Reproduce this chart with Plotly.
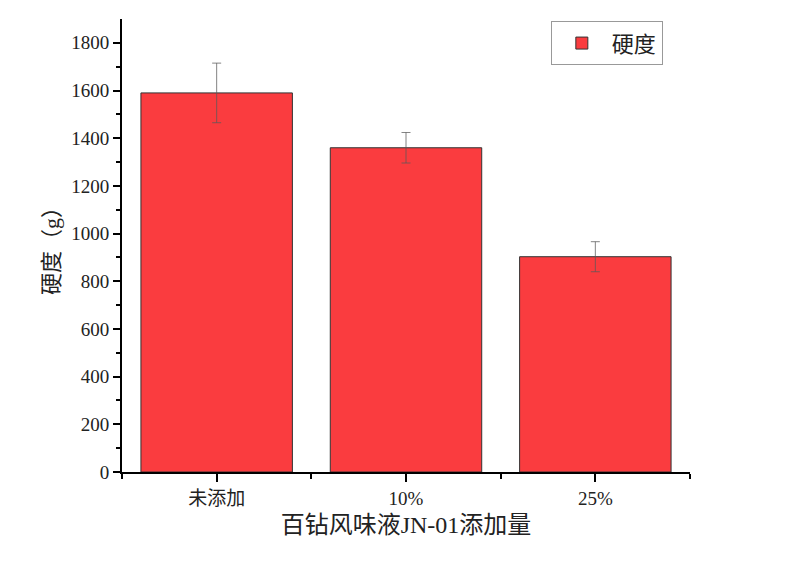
import plotly.graph_objects as go

# datos
categorias = ["未添加", "10%", "25%"]
posiciones = [0, 1, 2]
dureza = [1590, 1360, 903]
error_dureza = [125, 64, 63]
limites_x = [-0.5, 0.5, 1.5, 2.5]

fuente = "Liberation Serif, Noto Sans CJK SC, serif"

fig = go.Figure()
fig.add_trace(go.Bar(
    x=posiciones,
    y=dureza,
    width=0.8,
    name="硬度",
    marker=dict(color="#FA3C3F", line=dict(color="#333333", width=1)),
    error_y=dict(type="data", array=error_dureza, visible=True,
                 color="rgba(90,90,90,0.75)", thickness=1, width=4.5),
))

# la página tiene un margen de 8 px, por eso l y t más pequeños
fig.update_layout(
    width=806, height=580,
    margin=dict(l=114, r=124, t=11, b=116, autoexpand=False),
    paper_bgcolor="white", plot_bgcolor="white",
    font=dict(family=fuente, color="#222222"),
    showlegend=True,
    legend=dict(x=0.755, y=0.995, xanchor="left", yanchor="top",
                bordercolor="#999999", borderwidth=1, bgcolor="white",
                itemwidth=50,
                font=dict(size=22, family=fuente)),
    bargap=0.2,
)

fig.update_xaxes(
    range=[-0.5, 2.5],
    tickmode="array", tickvals=posiciones, ticktext=categorias,
    ticks="outside", ticklen=8, tickwidth=1.5, tickcolor="black",
    minor=dict(tickmode="array", tickvals=limites_x, ticks="outside",
               ticklen=5, tickwidth=1.5, tickcolor="black"),
    showline=True, linecolor="black", linewidth=2,
    showgrid=False, zeroline=False,
    tickfont=dict(size=19),
    title=dict(text="百钻风味液JN-01添加量", font=dict(size=24), standoff=8),
)

fig.update_yaxes(
    range=[0, 1900],
    tickmode="array", tickvals=list(range(0, 1801, 200)),
    ticks="outside", ticklen=7, tickwidth=1.5, tickcolor="black",
    minor=dict(tickmode="array", tickvals=list(range(100, 1900, 200)),
               ticks="outside", ticklen=4, tickwidth=1.5, tickcolor="black"),
    showline=True, linecolor="black", linewidth=2,
    showgrid=False, zeroline=False,
    tickfont=dict(size=19),
    title=dict(text="硬度（g）", font=dict(size=22), standoff=6),
)

fig.write_html("out.html")
